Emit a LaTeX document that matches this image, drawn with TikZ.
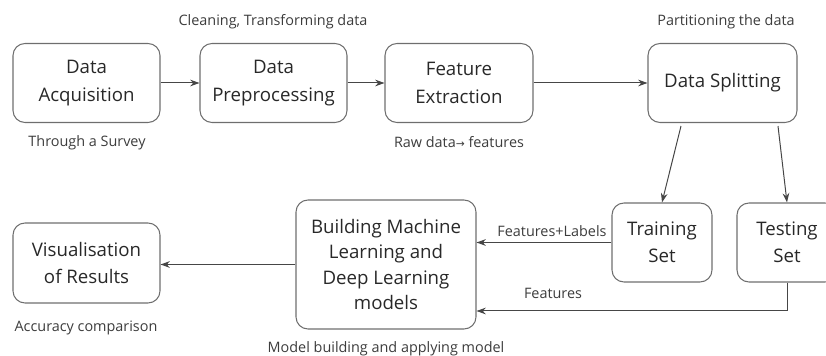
\documentclass[tikz,border=0pt]{standalone}
\usepackage{fontspec}
\setmainfont{Open Sans}
\newfontfamily\symfont{DejaVu Sans}
\usetikzlibrary{calc,arrows.meta}

\tikzset{
  stagebox/.style={draw={rgb,255:red,110;green,110;blue,110},line width=0.8pt,rounded corners=9pt,
    align=center,font=\fontsize{14}{20.5}\selectfont,text={rgb,255:red,40;green,40;blue,40},inner sep=2pt},
  note/.style={font=\fontsize{10.8}{12}\selectfont,text={rgb,255:red,60;green,60;blue,60},inner sep=0.75pt},
  flow/.style={draw={rgb,255:red,70;green,70;blue,70},line width=0.75pt,-{Stealth[length=7pt,width=5pt]}}
}

\begin{document}
\begin{tikzpicture}[x=0.75pt,y=0.75pt,yscale=-1,xscale=1]
        \useasboundingbox (0,0) rectangle (826,356);

        % Boxes, first row
        \node [stagebox,minimum width=110.25pt,minimum height=59.25pt] (acq) at (86.5,83) {Data\\Acquisition};
        \node [stagebox,minimum width=110.25pt,minimum height=59.25pt] (prep) at (273.5,83) {Data\\Preprocessing};
        \node [stagebox,minimum width=111pt,minimum height=59.25pt] (feat) at (459,83) {Feature\\Extraction};
        \node [stagebox,minimum width=111.75pt,minimum height=59.25pt] (split) at (722.5,83) {Data Splitting};

        % Boxes, second row
        \node [stagebox,minimum width=110.25pt,minimum height=60pt] (vis) at (86.5,263) {Visualisation\\of Results};
        \node [stagebox,minimum width=135pt,minimum height=96.75pt,font=\fontsize{14}{19}\selectfont] (build) at (386,264.5) {Building Machine\\Learning and\\Deep Learning\\models};
        \node [stagebox,minimum width=75pt,minimum height=59.25pt] (train) at (662,242.5) {Training\\Set};
        \node [stagebox,minimum width=75pt,minimum height=59.25pt] (test) at (787,242.5) {Testing\\Set};

        % Arrows
        \draw [flow] (acq.east) -- (prep.west) ;
        \draw [flow] (prep.east) -- (feat.west) ;
        \draw [flow] (feat.east) -- (split.west) ;
        \draw [flow] ($(split.south)+(-41.5,3)$) -- (train.north) ;
        \draw [flow] ($(split.south)+(55.5,3)$) -- (test.north) ;
        \draw [flow] (train.west) -- (train.west -| build.east) ;
        \draw [flow] (test.south) |- ($(build.east)+(0,46.5)$) ;
        \draw [flow] (build.west) -- (build.west -| vis.east) ;

        % Text Node
        \node [note] (cleannote) at (273,22) {Cleaning, Transforming data};
        % Text Node
        \node [note] (surveynote) at (87,143) {Through a Survey};
        % Text Node
        \node [note] (rawnote) at (459,142) {Raw data{\symfont\fontsize{8}{10}\selectfont →} features};
        % Text Node
        \node [note] (partnote) at (726,22) {Partitioning the data};
        % Text Node
        \node [note] (accnote) at (86,328) {Accuracy comparison};
        % Text Node
        \node [note] (modelnote) at (386,349) {Model building and applying model};
        % Text Node
        \node [note] (flabnote) at (552,231) {Features+Labels};
        % Text Node
        \node [note] (fnote) at (553,293) {Features};

    \end{tikzpicture}
\end{document}
